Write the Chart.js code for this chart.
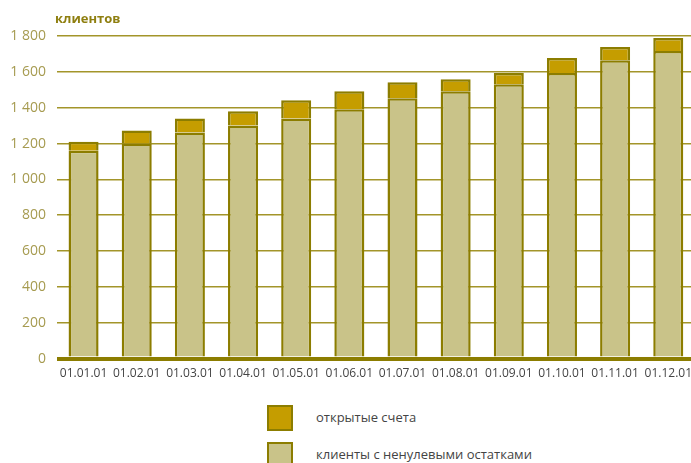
<!DOCTYPE html>
<html>
<head>
<meta charset="utf-8">
<script src="https://cdn.jsdelivr.net/npm/chart.js@4"></script>
<style>
  html, body { margin: 0; padding: 0; background: #fff; overflow: hidden; }
  #wrap { position: relative; width: 691px; height: 463px; overflow: hidden; font-family: "Open Sans", sans-serif; }
  #bar_chart { position: absolute; left: 0; top: 0; }
  #unit { position: absolute; left: 55px; top: 9px; font-size: 13px; font-weight: bold; color: #8f7f10; }
  .leg { position: absolute; left: 267px; font-size: 13px; color: #444; }
  .leg i { position: absolute; left: 0; top: 0; width: 22px; height: 22px; border: 2px solid #8c7d00; }
  .leg span { position: absolute; left: 49px; top: 3px; white-space: nowrap; }
</style>
</head>
<body>
<div id="wrap">
  <canvas id="bar_chart" width="700" height="389"></canvas>
  <div id="unit">клиентов</div>
  <div class="leg" style="top:405px"><i style="background:#c59d00"></i><span>открытые счета</span></div>
  <div class="leg" style="top:442px"><i style="background:#c9c389"></i><span>клиенты с ненулевыми остатками</span></div>
</div>
<script>
const dates = ['01.01.01', '01.02.01', '01.03.01', '01.04.01', '01.05.01', '01.06.01',
               '01.07.01', '01.08.01', '01.09.01', '01.10.01', '01.11.01', '01.12.01'];
// клиенты с ненулевыми остатками
const nonZero = [1160, 1200, 1262, 1301, 1340, 1391, 1452, 1492, 1531, 1593, 1665, 1716];
// открытые счета (сверху, прирост до общего числа)
const opened = [50, 73, 78, 79, 101, 101, 90, 67, 62, 84, 73, 73];
const yTicks = [0, 200, 400, 600, 800, 1000, 1200, 1400, 1600, 1800];

const olive = '#8c7d00';
const bar = document.getElementById('bar_chart');

new Chart(bar, {
  type: 'bar',
  data: {
    labels: dates,
    datasets: [{
      label: 'клиенты с ненулевыми остатками',
      data: nonZero,
      backgroundColor: '#c9c389',
      borderColor: olive,
      borderWidth: {left: 2.5, right: 2.5, top: 2.5, bottom: 0},
      borderSkipped: false,
    }, {
      label: 'открытые счета',
      data: opened,
      backgroundColor: '#c59d00',
      borderColor: olive,
      borderWidth: {left: 2.5, right: 2.5, top: 2.5, bottom: 0},
      borderSkipped: false,
    }]
  },
  options: {
    responsive: false,
    animation: false,
    layout: { padding: { top: 36, right: 0, left: 0, bottom: 0 } },
    datasets: { bar: { categoryPercentage: 1, barPercentage: 0.565 } },
    plugins: {
      legend: { display: false },
      tooltip: { enabled: false },
    },
    scales: {
      x: {
        stacked: true,
        grid: { display: false, drawTicks: false },
        border: { display: false },
        ticks: {
          color: '#444',
          padding: 8,
          maxRotation: 0,
          autoSkip: false,
          font: { family: 'Open Sans', size: 12 },
        },
      },
      y: {
        stacked: true,
        min: 0,
        max: 1800,
        afterBuildTicks: (axis) => { axis.ticks = yTicks.map(v => ({value: v})); },
        afterFit: (axis) => { axis.width = 57; },
        border: { display: false },
        grid: {
          drawTicks: false,
          color: (ctx) => ctx.tick && ctx.tick.value === 0 ? olive : '#a3952a',
          lineWidth: (ctx) => ctx.tick && ctx.tick.value === 0 ? 4 : 1.5,
        },
        ticks: {
          color: '#a69b50',
          padding: 11,
          font: { family: 'Open Sans', size: 14 },
          callback: (value) => String(value).replace(/\B(?=(\d{3})+(?!\d))/g, ' '),
        },
      },
    },
  },
});
</script>
</body>
</html>
